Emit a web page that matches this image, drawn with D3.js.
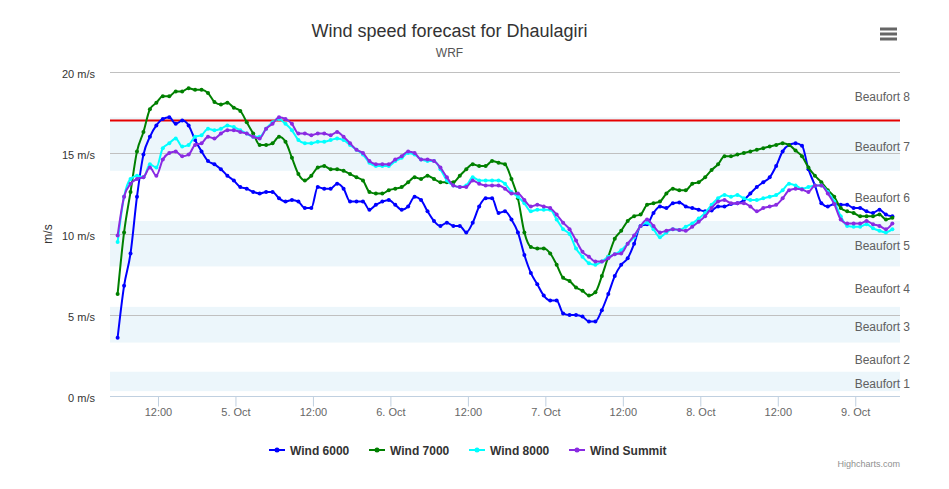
<!DOCTYPE html>
<html>
<head>
<meta charset="utf-8">
<script src="https://cdn.jsdelivr.net/npm/d3@7"></script>
<style>
  html, body { margin: 0; padding: 0; background: #fff; }
  svg { display: block; font-family: "Liberation Sans", Arial, Helvetica, sans-serif; }
</style>
</head>
<body>
<svg id="chart" width="949" height="489"></svg>
<script>
// ---- data (hourly, Nepal local time, starting 4 Oct 05:45) ----
const startTime = Date.UTC(2016, 9, 4, 5, 45);
const seriesNames = ["Wind 6000", "Wind 7000", "Wind 8000", "Wind Summit"];
const seriesColors = ["#0000ff", "#008000", "#00ffff", "#8a2be2"];

const wind6000 = [3.6,6.8,8.8,12.3,14.9,16.0,16.7,17.1,17.2,16.8,17.0,16.7,15.8,15.1,14.5,14.3,14.0,13.6,13.3,12.9,
  12.8,12.6,12.5,12.6,12.6,12.2,12.0,12.1,12.0,11.6,11.6,12.9,12.8,12.8,13.1,12.8,12.0,12.0,12.0,11.5,
  11.8,12.0,12.1,11.8,11.5,11.7,12.3,12.1,11.4,10.8,10.5,10.7,10.5,10.5,10.1,10.7,11.7,12.2,12.2,11.3,
  11.4,10.9,10.1,8.7,7.6,6.9,6.2,5.9,5.9,5.1,5.0,5.0,4.9,4.6,4.6,5.3,6.3,7.4,8.1,8.5,
  9.4,10.5,10.6,11.3,11.7,11.6,11.9,11.95,11.7,11.6,11.5,11.4,11.45,11.7,11.7,11.85,11.9,12.1,12.5,12.9,
  13.2,13.5,14.2,15.1,15.5,15.6,15.45,14.0,13.0,11.9,11.7,11.85,11.8,11.8,11.6,11.6,11.4,11.3,11.5,11.2,11.1];
const wind7000 = [6.3,10.1,12.6,15.1,16.3,17.7,18.1,18.5,18.5,18.8,18.8,19.0,18.9,18.9,18.7,18.15,18.0,18.1,17.8,17.6,
  16.9,16.2,15.5,15.5,15.6,16.0,15.7,14.7,13.7,13.3,13.6,14.1,14.2,14.0,14.0,13.9,13.7,13.5,13.3,12.6,
  12.5,12.5,12.7,12.8,12.9,13.2,13.5,13.4,13.6,13.4,13.2,13.2,13.2,13.6,14.0,14.3,14.2,14.2,14.5,14.4,
  14.3,13.4,12.2,10.1,9.2,9.1,9.1,8.8,8.1,7.3,7.1,6.7,6.5,6.2,6.4,7.4,8.6,9.7,10.2,10.8,
  11.1,11.2,11.8,11.9,12.0,12.5,12.8,12.7,12.7,13.1,13.2,13.5,13.95,14.3,14.8,14.8,14.9,15.0,15.1,15.2,
  15.3,15.4,15.5,15.6,15.5,15.15,14.8,14.1,13.6,13.2,12.7,12.3,11.6,11.4,11.3,11.1,11.1,11.1,11.2,10.9,11.0];
const wind8000 = [9.5,12.3,13.4,13.6,13.5,14.3,14.1,15.3,15.6,15.9,15.4,15.5,16.0,16.1,16.5,16.4,16.5,16.7,16.6,16.4,
  16.2,16.0,16.0,16.5,16.9,17.1,16.8,16.4,15.8,15.6,15.6,15.7,15.7,15.8,15.9,15.8,15.5,15.2,14.9,14.4,
  14.2,14.2,14.2,14.5,14.7,15.0,14.9,14.6,14.5,14.5,14.0,13.3,13.0,12.9,13.0,13.5,13.3,13.3,13.3,13.3,
  13.1,12.6,12.3,11.9,11.4,11.5,11.5,11.5,10.9,10.3,10.0,9.1,8.6,8.2,8.1,8.3,8.6,8.75,9.0,9.4,
  9.8,10.5,10.7,10.3,9.8,10.1,10.3,10.25,10.45,10.65,10.95,11.3,11.8,12.2,12.4,12.3,12.4,12.2,12.1,12.1,
  12.2,12.3,12.4,12.7,13.1,13.0,12.8,12.9,13.0,13.0,12.6,12.0,11.1,10.5,10.45,10.45,10.6,10.35,10.2,10.1,10.3];
const windSummit = [9.9,12.3,13.1,13.4,13.5,14.1,13.6,14.6,15.0,15.1,14.8,14.9,15.5,15.6,16.0,15.9,16.2,16.4,16.4,16.3,
  16.2,16.0,15.9,16.5,16.8,17.2,17.1,16.8,16.2,16.2,16.1,16.2,16.2,16.1,16.3,16.0,15.6,15.2,15.0,14.5,
  14.3,14.3,14.3,14.6,14.8,15.1,15.0,14.6,14.6,14.5,14.1,13.5,13.0,12.9,12.9,13.3,13.1,13.0,13.0,13.0,
  12.8,12.5,12.5,12.1,11.7,11.8,11.7,11.6,11.2,10.7,10.3,9.6,8.9,8.6,8.3,8.3,8.5,8.75,8.8,9.4,
  9.9,10.5,10.9,10.5,10.1,10.2,10.3,10.25,10.2,10.45,10.75,11.1,11.6,12.0,12.1,11.9,11.9,11.9,11.7,11.4,
  11.6,11.7,11.8,12.2,12.7,12.8,12.75,12.6,13.0,13.0,12.5,11.85,10.9,10.65,10.65,10.65,10.8,10.6,10.5,10.3,10.65];

const yTicks = [0, 5, 10, 15, 20];
const beaufortBands = [
  {name: "Beaufort 1", from: 0.3, to: 1.5, shaded: true},
  {name: "Beaufort 2", from: 1.5, to: 3.3, shaded: false},
  {name: "Beaufort 3", from: 3.3, to: 5.5, shaded: true},
  {name: "Beaufort 4", from: 5.5, to: 8.0, shaded: false},
  {name: "Beaufort 5", from: 8.0, to: 10.8, shaded: true},
  {name: "Beaufort 6", from: 10.8, to: 13.9, shaded: false},
  {name: "Beaufort 7", from: 13.9, to: 17.2, shaded: true},
  {name: "Beaufort 8", from: 17.2, to: 20.5, shaded: false}
];
const redLineValue = 17;
const xTickTimes = d3.range(0, 10).map(k => Date.UTC(2016, 9, 4, 12) + k * 12 * 3600e3);
const monthNames = ["Jan","Feb","Mar","Apr","May","Jun","Jul","Aug","Sep","Oct","Nov","Dec"];

// ---- layout ----
const svg = d3.select("#chart");
const W = 949, H = 489;
const pLeft = 110, pRight = 900, pTop = 72, pBottom = 396;

const allSeries = [wind6000, wind7000, wind8000, windSummit];
const H1 = 3600e3;
const endTime = startTime + (wind6000.length - 1) * H1;
const pad = 1.18 * H1;

const x = d3.scaleUtc().domain([startTime - pad, endTime + pad]).range([pLeft, pRight]);
const y = d3.scaleLinear().domain([0, 20]).range([pBottom, pTop]);

svg.append("rect").attr("width", W).attr("height", H).attr("fill", "#fff");

svg.append("clipPath").attr("id", "plotclip").append("rect")
  .attr("x", pLeft).attr("y", pTop).attr("width", pRight - pLeft).attr("height", pBottom - pTop);

// bands
const bandG = svg.append("g").attr("clip-path", "url(#plotclip)");
bandG.selectAll("rect").data(beaufortBands.filter(b => b.shaded)).join("rect")
  .attr("x", pLeft).attr("width", pRight - pLeft)
  .attr("y", d => y(Math.min(d.to, 20))).attr("height", d => y(d.from) - y(Math.min(d.to, 20)))
  .attr("fill", "rgba(68,170,213,0.1)");

// grid lines
svg.append("g").selectAll("line").data(yTicks).join("line")
  .attr("x1", pLeft).attr("x2", pRight)
  .attr("y1", d => Math.round(y(d)) + 0.5).attr("y2", d => Math.round(y(d)) + 0.5)
  .attr("stroke", "#c0c0c0").attr("stroke-width", 1);

// band labels
svg.append("g").selectAll("text").data(beaufortBands).join("text")
  .attr("x", 910).attr("text-anchor", "end")
  .attr("y", d => (y(d.from) + y(Math.min(d.to, 20))) / 2 + 6.5)
  .attr("font-size", 12).attr("fill", "#606060")
  .text(d => d.name);

// red line
svg.append("line").attr("x1", pLeft).attr("x2", pRight)
  .attr("y1", y(redLineValue)).attr("y2", y(redLineValue))
  .attr("stroke", "#e60000").attr("stroke-width", 2);

// x axis
const xAxis = d3.axisBottom(x).tickValues(xTickTimes).tickSize(10).tickPadding(2)
  .tickFormat(d => {
    const dt = new Date(d);
    if (dt.getUTCHours() === 0 && dt.getUTCMinutes() === 0) return dt.getUTCDate() + ". " + monthNames[dt.getUTCMonth()];
    return d3.utcFormat("%H:%M")(dt);
  });
const xg = svg.append("g").attr("transform", `translate(0,${pBottom + 0.5})`).call(xAxis);
xg.select(".domain").remove();
xg.append("line").attr("x1", pLeft).attr("x2", pRight).attr("stroke", "#c0d0e0").attr("stroke-width", 1);
xg.selectAll(".tick line").attr("stroke", "#c0d0e0");
xg.selectAll(".tick text").attr("fill", "#666").attr("font-size", 11)
  .attr("font-family", "Liberation Sans, Arial, sans-serif");

// y axis labels
svg.append("g").selectAll("text").data(yTicks).join("text")
  .attr("x", 95).attr("y", d => y(d) + 6).attr("text-anchor", "end")
  .attr("font-size", 11).attr("fill", "#333").text(d => d + " m/s");
svg.append("text").attr("transform", `translate(52,${(pTop + pBottom) / 2}) rotate(-90)`)
  .attr("text-anchor", "middle").attr("font-size", 12).attr("fill", "#333").text("m/s");

// series
const line = d3.line().x((d, i) => x(startTime + i * H1)).y(d => y(d)).curve(d3.curveMonotoneX);
const seriesG = svg.append("g");
allSeries.forEach((data, si) => {
  const g = seriesG.append("g");
  g.append("path").attr("d", line(data)).attr("fill", "none")
    .attr("stroke", seriesColors[si]).attr("stroke-width", 2).attr("stroke-linejoin", "round");
  g.selectAll("circle").data(data).join("circle")
    .attr("cx", (d, i) => x(startTime + i * H1)).attr("cy", d => y(d))
    .attr("r", 2).attr("fill", seriesColors[si]);
});

// title
svg.append("text").attr("x", 449.5).attr("y", 37).attr("text-anchor", "middle")
  .attr("font-size", 18).attr("fill", "#333").text("Wind speed forecast for Dhaulagiri");
svg.append("text").attr("x", 449.5).attr("y", 57).attr("text-anchor", "middle")
  .attr("font-size", 12).attr("fill", "#555").text("WRF");

// menu icon
const menu = svg.append("g");
[29, 34, 39].forEach(yy => menu.append("rect").attr("x", 880).attr("y", yy - 1.5)
  .attr("width", 17).attr("height", 3).attr("fill", "#666"));

// legend
const legX = [269, 369, 469, 569];
const legY = 450;
const leg = svg.append("g");
seriesNames.forEach((n, i) => {
  const g = leg.append("g");
  g.append("line").attr("x1", legX[i]).attr("x2", legX[i] + 16).attr("y1", legY).attr("y2", legY)
    .attr("stroke", seriesColors[i]).attr("stroke-width", 2);
  g.append("circle").attr("cx", legX[i] + 8).attr("cy", legY).attr("r", 2.5).attr("fill", seriesColors[i]);
  g.append("text").attr("x", legX[i] + 21).attr("y", legY + 4.5).attr("font-size", 12)
    .attr("font-weight", "bold").attr("fill", "#333").text(n);
});

// credits
svg.append("text").attr("x", 900).attr("y", 467).attr("text-anchor", "end")
  .attr("font-size", 9).attr("fill", "#909090").text("Highcharts.com");
</script>
</body>
</html>
